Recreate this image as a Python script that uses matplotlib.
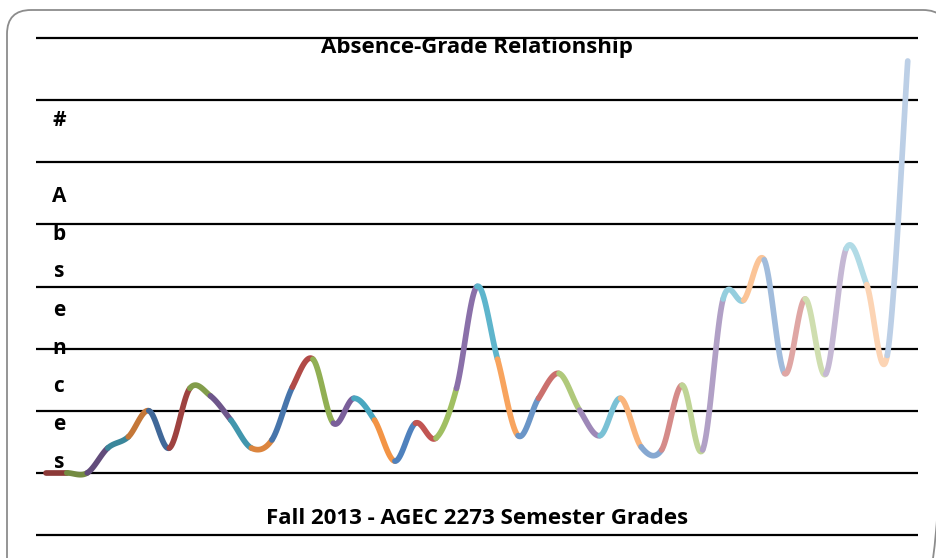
import numpy as np
import matplotlib
matplotlib.use("Agg")
import matplotlib.pyplot as plt
from matplotlib.patches import FancyBboxPatch
from matplotlib.colors import to_rgb

# average absences per student, ordered by semester grade
absences = [0.0, 0.0, 0.0, 0.40, 0.58, 1.00, 0.40, 1.36, 1.24, 0.85,
            0.40, 0.53, 1.38, 1.83, 0.80, 1.20, 0.85, 0.19, 0.80, 0.56,
            1.36, 3.00, 1.83, 0.60, 1.20, 1.60, 1.01, 0.60, 1.20, 0.42,
            0.37, 1.41, 0.37, 2.80, 2.78, 3.43, 1.60, 2.80, 1.59, 3.61,
            3.03, 1.89, 6.63]
grades = np.arange(len(absences))

# Excel 2007 accent colours, cycled point by point
accents = ["#4F81BD", "#C0504D", "#9BBB59", "#8064A2", "#4BACC6", "#F79646"]

title = "Absence-Grade Relationship"
xlabel = "Fall 2013 - AGEC 2273 Semester Grades"
ylabel = ["#", ""] + list("Absences")


def shade(hexcol, k):
    # darker at the start, lighter towards the end, like Excel's "vary colors"
    c = np.array(to_rgb(hexcol))
    if k <= 18:
        f = -0.27 + 0.27 * (k - 1) / 17
        return tuple(c * (1 + f))
    f = 0.62 * (k - 18) / 24
    return tuple(c + (1 - c) * f)


def smooth_segment(x, y, i, n=40):
    # Catmull-Rom style bezier between point i-1 and i (Excel smoothing)
    p = np.column_stack([x, y]).astype(float)
    p0 = p[max(i - 2, 0)]
    p1 = p[i - 1]
    p2 = p[i]
    p3 = p[min(i + 1, len(p) - 1)]
    c1 = p1 + (p2 - p0) / 6
    c2 = p2 - (p3 - p1) / 6
    t = np.linspace(0, 1, n)[:, None]
    pts = ((1 - t) ** 3) * p1 + 3 * ((1 - t) ** 2) * t * c1 + 3 * (1 - t) * t ** 2 * c2 + t ** 3 * p2
    return pts[:, 0], pts[:, 1]


W, H = 936, 558
fig = plt.figure(figsize=(W / 100, H / 100), dpi=100)

# background axes in pixel units, for the rounded chart border
bg = fig.add_axes([0, 0, 1, 1])
bg.set_xlim(0, W)
bg.set_ylim(H, 0)
bg.axis("off")
bg.add_patch(FancyBboxPatch((7, 10), 940, 580, boxstyle="round,pad=0,rounding_size=24",
                            fc="none", ec="#8c8c8c", lw=1.3, clip_on=False))

ax = fig.add_axes([36 / W, 1 - 535 / H, (918 - 36) / W, (535 - 38) / H])
ax.set_xlim(-0.5, len(absences) - 0.5)
ax.set_ylim(-1, 7)
ax.axis("off")

levels = np.arange(-1, 8)
ax.hlines(levels, -0.5, len(absences) - 0.5, color="black", lw=1.6, clip_on=False, zorder=1)

for k in range(1, len(absences)):
    sx, sy = smooth_segment(grades, absences, k)
    ax.plot(sx, sy, color=shade(accents[k % 6], k), lw=4.1,
            solid_capstyle="round", zorder=3)

font = dict(family="Open Sans", weight="bold")
fig.text(477 / W, 1 - 47 / H, title, ha="center", va="center", fontsize=16, **font)
fig.text(477 / W, 1 - 518 / H, xlabel, ha="center", va="center", fontsize=16, **font)
for i, ch in enumerate(ylabel):
    fig.text(59 / W, 1 - (120 + i * 38) / H, ch, ha="center", va="center", fontsize=15, **font)

fig.savefig("out.png", dpi=100)
